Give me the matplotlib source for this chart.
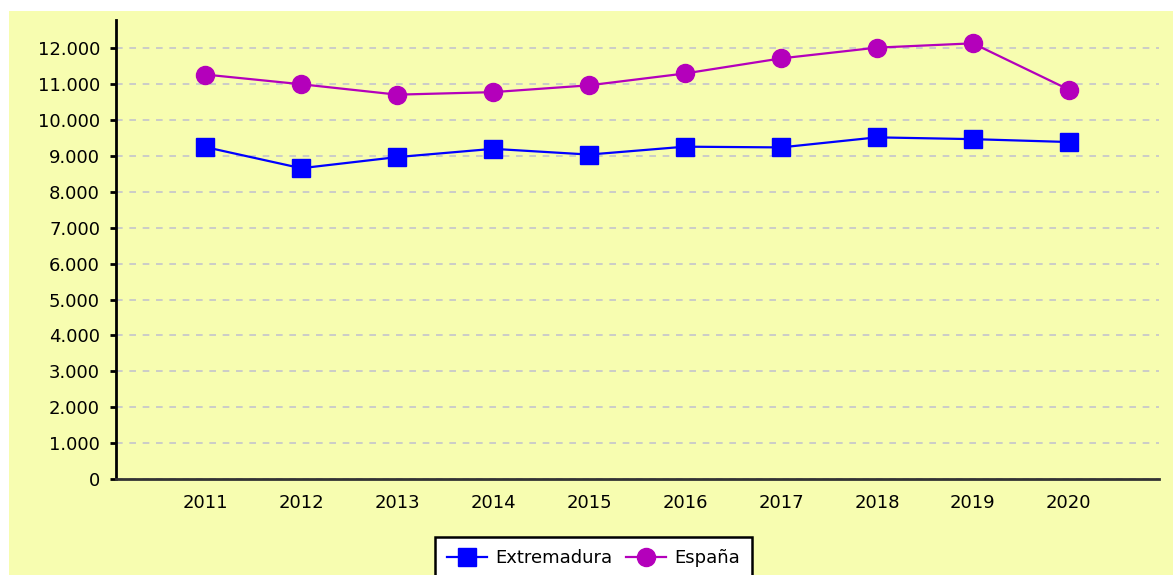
import matplotlib
matplotlib.use("Agg")
import matplotlib.pyplot as plt
from matplotlib.patches import Rectangle
from matplotlib.ticker import FuncFormatter

# datos
years = [2011, 2012, 2013, 2014, 2015, 2016, 2017, 2018, 2019, 2020]
extremadura = [9250, 8660, 8970, 9200, 9040, 9260, 9240, 9520, 9470, 9390]
espana = [11270, 11000, 10710, 10780, 10970, 11300, 11720, 12020, 12140, 10850]
yticks = list(range(0, 12001, 1000))

bg = "#f7fdb0"
plt.rcParams['font.family'] = ['DejaVu Sans']

fig = plt.figure(figsize=(11.73, 5.75), dpi=100)
fig.patch.set_facecolor("white")
# panel amarillo
fig.patches.append(Rectangle((9/1173, 0), 1 - 9/1173, 1 - 11/575,
                             transform=fig.transFigure, facecolor=bg,
                             edgecolor="none", zorder=-10))

ax = fig.add_axes([116/1173, 1 - 479/575, (1159 - 116)/1173, (479 - 20)/575])
ax.set_facecolor("none")

ax.plot(years, extremadura, color="#0000ff", lw=1.6, marker="s", ms=13,
        label="Extremadura", zorder=3)
ax.plot(years, espana, color="#b400bb", lw=1.6, marker="o", ms=13,
        label="España", zorder=3)

ax.set_xlim(2010.07, 2020.94)
ax.set_ylim(0, 12790)
ax.set_xticks(years)
ax.set_yticks(yticks)
ax.yaxis.set_major_formatter(FuncFormatter(lambda v, p: f"{int(v):,}".replace(",", ".")))

ax.grid(axis="y", color="#c4c4cc", linestyle=(0, (4, 4)), linewidth=1.2)
ax.set_axisbelow(True)

for s in ["top", "right"]:
    ax.spines[s].set_visible(False)
ax.spines["left"].set_linewidth(2)
ax.spines["left"].set_color("black")
ax.spines["bottom"].set_linewidth(2)
ax.spines["bottom"].set_color("#333333")

ax.tick_params(axis="y", length=4.5, width=2, pad=7, labelsize=13)
ax.tick_params(axis="x", length=0, pad=11, labelsize=13)

leg = fig.legend(loc="upper center", bbox_to_anchor=(0.506, 1 - 537/575),
                 ncol=2, fontsize=13, frameon=True, fancybox=False,
                 edgecolor="black", facecolor="white", framealpha=1,
                 handlelength=2.2, handletextpad=0.45, columnspacing=0.8,
                 borderpad=0.68, borderaxespad=0)
leg.get_frame().set_linewidth(1.8)

fig.savefig("out.png", dpi=100)
